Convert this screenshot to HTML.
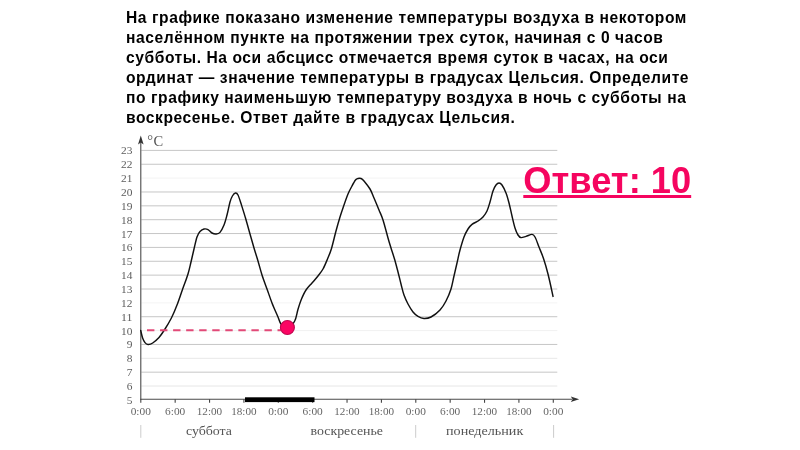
<!DOCTYPE html>
<html><head><meta charset="utf-8">
<style>
html,body{margin:0;padding:0;background:#fff;}
body{width:800px;height:450px;position:relative;overflow:hidden;font-family:"Liberation Sans",sans-serif;}
#q{position:absolute;left:126px;top:7.5px;width:600px;font-weight:bold;font-size:15.6px;letter-spacing:0.57px;filter:blur(0.4px);line-height:20px;color:#000;white-space:nowrap;}
#a{position:absolute;left:523.3px;top:160.5px;font-weight:bold;font-size:36.3px;filter:blur(0.4px);line-height:40px;color:#f5055f;white-space:nowrap;text-decoration:underline;}
svg{position:absolute;left:0;top:0;}
.b{filter:blur(0.35px);}
svg text{font-family:"Liberation Serif",serif;}
</style></head><body>
<svg width="800" height="450" viewBox="0 0 800 450">
<g>
<line x1="141.3" x2="557.3" y1="386.02" y2="386.02" stroke="#e6e6e6" stroke-width="1"/>
<line x1="141.3" x2="557.3" y1="372.16" y2="372.16" stroke="#c6c6c6" stroke-width="1"/>
<line x1="141.3" x2="557.3" y1="358.30" y2="358.30" stroke="#e8e8e8" stroke-width="1"/>
<line x1="141.3" x2="557.3" y1="344.44" y2="344.44" stroke="#c6c6c6" stroke-width="1"/>
<line x1="141.3" x2="557.3" y1="330.58" y2="330.58" stroke="#f1f1f1" stroke-width="1"/>
<line x1="141.3" x2="557.3" y1="316.72" y2="316.72" stroke="#c6c6c6" stroke-width="1"/>
<line x1="141.3" x2="557.3" y1="302.86" y2="302.86" stroke="#f4f4f4" stroke-width="1"/>
<line x1="141.3" x2="557.3" y1="289.00" y2="289.00" stroke="#c6c6c6" stroke-width="1"/>
<line x1="141.3" x2="557.3" y1="275.14" y2="275.14" stroke="#c6c6c6" stroke-width="1"/>
<line x1="141.3" x2="557.3" y1="261.28" y2="261.28" stroke="#c6c6c6" stroke-width="1"/>
<line x1="141.3" x2="557.3" y1="247.42" y2="247.42" stroke="#c6c6c6" stroke-width="1"/>
<line x1="141.3" x2="557.3" y1="233.56" y2="233.56" stroke="#c6c6c6" stroke-width="1"/>
<line x1="141.3" x2="557.3" y1="219.70" y2="219.70" stroke="#c6c6c6" stroke-width="1"/>
<line x1="141.3" x2="557.3" y1="205.84" y2="205.84" stroke="#c6c6c6" stroke-width="1"/>
<line x1="141.3" x2="557.3" y1="191.98" y2="191.98" stroke="#c6c6c6" stroke-width="1"/>
<line x1="141.3" x2="557.3" y1="178.12" y2="178.12" stroke="#f3f3f3" stroke-width="1"/>
<line x1="141.3" x2="557.3" y1="164.26" y2="164.26" stroke="#c6c6c6" stroke-width="1"/>
<line x1="141.3" x2="557.3" y1="150.40" y2="150.40" stroke="#c6c6c6" stroke-width="1"/>
</g>
<line x1="140.8" x2="140.8" y1="140" y2="399.8" stroke="#4a4a4a" stroke-width="1.1"/>
<path d="M140.8 135.5 L143.6 144.5 L140.8 142.5 L138 144.5 Z" fill="#333"/>
<line x1="140.3" x2="572" y1="399.3" y2="399.3" stroke="#4a4a4a" stroke-width="1.1"/>
<path d="M579.2 399.3 L570.8 402 L572.6 399.3 L570.8 396.6 Z" fill="#333"/>
<g>
<line x1="140.80" x2="140.80" y1="399.3" y2="402.8" stroke="#444" stroke-width="1.1"/>
<line x1="175.17" x2="175.17" y1="399.3" y2="402.8" stroke="#444" stroke-width="1.1"/>
<line x1="209.55" x2="209.55" y1="399.3" y2="402.8" stroke="#444" stroke-width="1.1"/>
<line x1="243.92" x2="243.92" y1="399.3" y2="402.8" stroke="#444" stroke-width="1.1"/>
<line x1="278.30" x2="278.30" y1="399.3" y2="402.8" stroke="#444" stroke-width="1.1"/>
<line x1="312.67" x2="312.67" y1="399.3" y2="402.8" stroke="#444" stroke-width="1.1"/>
<line x1="347.04" x2="347.04" y1="399.3" y2="402.8" stroke="#444" stroke-width="1.1"/>
<line x1="381.42" x2="381.42" y1="399.3" y2="402.8" stroke="#444" stroke-width="1.1"/>
<line x1="415.79" x2="415.79" y1="399.3" y2="402.8" stroke="#444" stroke-width="1.1"/>
<line x1="450.17" x2="450.17" y1="399.3" y2="402.8" stroke="#444" stroke-width="1.1"/>
<line x1="484.54" x2="484.54" y1="399.3" y2="402.8" stroke="#444" stroke-width="1.1"/>
<line x1="518.91" x2="518.91" y1="399.3" y2="402.8" stroke="#444" stroke-width="1.1"/>
<line x1="553.29" x2="553.29" y1="399.3" y2="402.8" stroke="#444" stroke-width="1.1"/>
</g>
<g class="b" font-size="9.8" fill="#5c5c5c">
<text x="126.8" y="403.8" textLength="5.7" lengthAdjust="spacingAndGlyphs">5</text>
<text x="126.8" y="389.9" textLength="5.7" lengthAdjust="spacingAndGlyphs">6</text>
<text x="126.8" y="376.1" textLength="5.7" lengthAdjust="spacingAndGlyphs">7</text>
<text x="126.8" y="362.2" textLength="5.7" lengthAdjust="spacingAndGlyphs">8</text>
<text x="126.8" y="348.3" textLength="5.7" lengthAdjust="spacingAndGlyphs">9</text>
<text x="121.1" y="334.5" textLength="11.4" lengthAdjust="spacingAndGlyphs">10</text>
<text x="121.1" y="320.6" textLength="11.4" lengthAdjust="spacingAndGlyphs">11</text>
<text x="121.1" y="306.8" textLength="11.4" lengthAdjust="spacingAndGlyphs">12</text>
<text x="121.1" y="292.9" textLength="11.4" lengthAdjust="spacingAndGlyphs">13</text>
<text x="121.1" y="279.0" textLength="11.4" lengthAdjust="spacingAndGlyphs">14</text>
<text x="121.1" y="265.2" textLength="11.4" lengthAdjust="spacingAndGlyphs">15</text>
<text x="121.1" y="251.3" textLength="11.4" lengthAdjust="spacingAndGlyphs">16</text>
<text x="121.1" y="237.5" textLength="11.4" lengthAdjust="spacingAndGlyphs">17</text>
<text x="121.1" y="223.6" textLength="11.4" lengthAdjust="spacingAndGlyphs">18</text>
<text x="121.1" y="209.7" textLength="11.4" lengthAdjust="spacingAndGlyphs">19</text>
<text x="121.1" y="195.9" textLength="11.4" lengthAdjust="spacingAndGlyphs">20</text>
<text x="121.1" y="182.0" textLength="11.4" lengthAdjust="spacingAndGlyphs">21</text>
<text x="121.1" y="168.2" textLength="11.4" lengthAdjust="spacingAndGlyphs">22</text>
<text x="121.1" y="154.3" textLength="11.4" lengthAdjust="spacingAndGlyphs">23</text>
</g>
<g class="b" font-size="9.8" fill="#666">
<text x="130.7" y="414.6" textLength="20.2" lengthAdjust="spacingAndGlyphs">0:00</text>
<text x="165.1" y="414.6" textLength="20.2" lengthAdjust="spacingAndGlyphs">6:00</text>
<text x="196.8" y="414.6" textLength="25.4" lengthAdjust="spacingAndGlyphs">12:00</text>
<text x="231.2" y="414.6" textLength="25.4" lengthAdjust="spacingAndGlyphs">18:00</text>
<text x="268.2" y="414.6" textLength="20.2" lengthAdjust="spacingAndGlyphs">0:00</text>
<text x="302.6" y="414.6" textLength="20.2" lengthAdjust="spacingAndGlyphs">6:00</text>
<text x="334.3" y="414.6" textLength="25.4" lengthAdjust="spacingAndGlyphs">12:00</text>
<text x="368.7" y="414.6" textLength="25.4" lengthAdjust="spacingAndGlyphs">18:00</text>
<text x="405.7" y="414.6" textLength="20.2" lengthAdjust="spacingAndGlyphs">0:00</text>
<text x="440.1" y="414.6" textLength="20.2" lengthAdjust="spacingAndGlyphs">6:00</text>
<text x="471.8" y="414.6" textLength="25.4" lengthAdjust="spacingAndGlyphs">12:00</text>
<text x="506.2" y="414.6" textLength="25.4" lengthAdjust="spacingAndGlyphs">18:00</text>
<text x="543.2" y="414.6" textLength="20.2" lengthAdjust="spacingAndGlyphs">0:00</text>
</g>
<text class="b" x="147.3" y="146.3" font-size="14.5" fill="#555"><tspan dy="-1.5">°</tspan><tspan dy="1.5" dx="0.5">C</tspan></text>
<g class="b" font-size="13.5" fill="#555">
<text x="186" y="434.8" textLength="46" lengthAdjust="spacingAndGlyphs">суббота</text>
<text x="310.5" y="434.8" textLength="72.5" lengthAdjust="spacingAndGlyphs">воскресенье</text>
<text x="446" y="434.8" textLength="77.3" lengthAdjust="spacingAndGlyphs">понедельник</text>
</g>
<g stroke="#ccc" stroke-width="1">
<line x1="140.8" x2="140.8" y1="425" y2="437.8"/>
<line x1="415.7" x2="415.7" y1="425" y2="437.8"/>
<line x1="553.6" x2="553.6" y1="425" y2="437.8"/>
</g>
<rect x="245" y="397.3" width="69.5" height="4.8" fill="#000"/>
<path class="b" d="M140.7 330.5C141.0 331.8 141.9 336.0 142.6 338.0C143.3 340.0 144.1 341.5 145.0 342.6C145.9 343.7 146.7 344.4 148.0 344.5C149.3 344.6 150.9 344.2 152.7 343.0C154.5 341.8 156.9 339.8 159.0 337.5C161.1 335.2 162.9 332.2 165.0 329.0C167.1 325.8 169.4 321.9 171.4 318.0C173.4 314.1 175.0 310.4 176.8 305.6C178.7 300.9 180.6 294.8 182.5 289.5C184.4 284.2 186.6 278.6 188.0 274.0C189.4 269.4 190.0 266.2 191.0 262.0C192.0 257.8 193.0 253.2 194.0 249.0C195.0 244.8 196.0 239.9 197.0 237.0C198.0 234.1 198.8 232.9 200.0 231.6C201.2 230.3 202.7 229.3 204.0 229.0C205.3 228.7 206.7 228.9 208.0 229.6C209.3 230.3 210.7 232.3 212.0 233.0C213.3 233.7 214.7 234.1 216.0 234.0C217.3 233.9 218.7 233.9 220.0 232.4C221.3 230.9 222.8 227.9 224.0 225.0C225.2 222.1 226.0 218.8 227.0 215.0C228.0 211.2 229.1 205.2 230.0 202.0C230.9 198.8 231.5 197.5 232.4 196.0C233.3 194.5 234.5 193.2 235.4 193.0C236.3 192.8 237.1 193.2 238.0 195.0C238.9 196.8 239.8 199.7 241.0 203.5C242.2 207.3 244.0 212.9 245.5 218.0C247.0 223.1 248.6 229.0 250.0 234.0C251.4 239.0 252.7 243.5 254.0 248.0C255.3 252.5 256.7 256.5 258.0 261.0C259.3 265.5 260.5 270.3 262.0 275.0C263.5 279.7 265.3 284.3 267.0 289.0C268.7 293.7 270.2 298.3 272.0 303.0C273.8 307.7 276.5 313.5 278.0 317.0C279.5 320.5 279.4 321.9 281.0 324.0C282.6 326.1 285.2 330.0 287.5 329.5C289.8 329.0 293.0 324.2 294.7 321.0C296.4 317.8 296.7 313.7 297.8 310.0C298.9 306.3 300.1 302.3 301.5 299.0C302.9 295.7 304.2 292.7 306.0 290.0C307.8 287.3 310.0 285.3 312.0 283.0C314.0 280.7 316.2 278.3 318.0 276.0C319.8 273.7 321.4 271.8 323.0 269.0C324.6 266.2 326.1 262.4 327.5 259.0C328.9 255.6 330.1 253.2 331.5 248.5C332.9 243.8 334.6 236.2 336.0 231.0C337.4 225.8 338.7 221.3 340.0 217.0C341.3 212.7 342.7 208.8 344.0 205.0C345.3 201.2 346.7 197.2 348.0 194.0C349.3 190.8 350.8 188.3 352.0 186.0C353.2 183.7 354.5 181.2 355.5 180.0C356.5 178.8 357.1 178.8 358.0 178.5C358.9 178.2 360.0 178.1 361.0 178.5C362.0 178.9 362.5 179.2 364.0 181.0C365.5 182.8 368.3 186.2 370.0 189.0C371.7 191.8 372.5 194.5 374.0 198.0C375.5 201.5 377.5 206.3 379.0 210.0C380.5 213.7 381.5 215.3 383.0 220.0C384.5 224.7 386.7 233.3 388.0 238.0C389.3 242.7 389.9 244.5 391.0 248.0C392.1 251.5 393.3 255.0 394.5 259.0C395.7 263.0 396.9 267.8 398.0 272.0C399.1 276.2 400.0 280.2 401.0 284.0C402.0 287.8 402.8 291.7 404.0 295.0C405.2 298.3 406.5 301.2 408.0 304.0C409.5 306.8 411.3 309.9 413.0 312.0C414.7 314.1 416.2 315.3 418.0 316.4C419.8 317.5 421.8 318.4 424.0 318.5C426.2 318.6 428.3 318.4 431.0 317.0C433.7 315.6 437.5 312.7 440.0 310.0C442.5 307.3 444.2 304.5 446.0 301.0C447.8 297.5 449.7 293.2 451.0 289.0C452.3 284.8 453.0 280.3 454.0 276.0C455.0 271.7 456.0 267.3 457.0 263.0C458.0 258.7 458.8 254.3 460.0 250.0C461.2 245.7 462.7 240.5 464.0 237.0C465.3 233.5 466.7 231.1 468.0 229.0C469.3 226.9 470.3 225.7 472.0 224.4C473.7 223.1 476.2 222.2 478.0 221.0C479.8 219.8 481.5 218.7 483.0 217.0C484.5 215.3 485.8 213.5 487.0 211.0C488.2 208.5 489.0 205.3 490.0 202.0C491.0 198.7 492.0 193.8 493.0 191.0C494.0 188.2 495.0 186.3 496.0 185.0C497.0 183.7 498.0 183.0 499.0 183.0C500.0 183.0 500.8 183.3 502.0 185.0C503.2 186.7 504.8 190.0 506.0 193.0C507.2 196.0 508.0 199.2 509.0 203.0C510.0 206.8 511.0 211.8 512.0 216.0C513.0 220.2 514.0 224.8 515.0 228.0C516.0 231.2 517.0 233.4 518.0 235.0C519.0 236.6 519.7 237.4 521.0 237.6C522.3 237.8 524.2 236.9 526.0 236.4C527.8 235.9 530.5 234.3 532.0 234.4C533.5 234.5 533.8 234.9 535.0 237.0C536.2 239.1 537.6 243.4 539.0 247.0C540.4 250.6 542.0 254.0 543.5 258.5C545.0 263.0 546.8 269.2 548.0 274.0C549.2 278.8 550.2 283.3 551.0 287.0C551.8 290.7 552.7 294.8 553.0 296.4" fill="none" stroke="#111" stroke-width="1.45" stroke-linejoin="round" stroke-linecap="round"/>
<line x1="147" x2="281" y1="330.2" y2="330.2" stroke="#e24a78" stroke-width="2" stroke-dasharray="7.4 5.65"/>
<circle cx="287.4" cy="327.5" r="7.0" fill="#fb0563" stroke="#c00850" stroke-width="1.1"/>
</svg>
<div id="q">На графике показано изменение температуры воздуха в некотором<br>населённом пункте на протяжении трех суток, начиная с 0 часов<br>субботы. На оси абсцисс отмечается время суток в часах, на оси<br>ординат — значение температуры в градусах Цельсия. Определите<br>по графику наименьшую температуру воздуха в ночь с субботы на<br>воскресенье. Ответ дайте в градусах Цельсия.</div>
<div id="a">Ответ: 10</div>
</body></html>
